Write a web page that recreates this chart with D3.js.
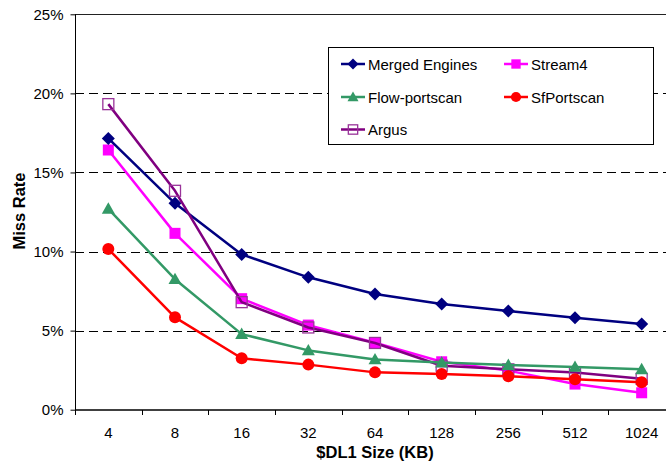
<!DOCTYPE html>
<html><head><meta charset="utf-8">
<script src="https://cdn.jsdelivr.net/npm/d3@7"></script>
<style>body{margin:0;background:#fff;} svg{display:block;font-family:"Liberation Sans",Arial,sans-serif;}</style>
</head><body>
<svg id="c" width="666" height="466"></svg>
<script>
const categories = ["4","8","16","32","64","128","256","512","1024"];
const yTicks = [0,5,10,15,20,25];
const mergedEngines = [17.15,13.05,9.82,8.37,7.31,6.68,6.24,5.82,5.42];
const stream4 = [16.42,11.15,7.02,5.35,4.24,3.03,2.47,1.62,1.07];
const flowPortscan = [12.7,8.25,4.78,3.75,3.18,2.98,2.82,2.7,2.55];
const sfPortscan = [10.16,5.84,3.25,2.85,2.36,2.26,2.11,1.92,1.73];
const argus = [19.32,13.84,6.8,5.2,4.22,2.78,2.55,2.35,1.95];

const series = [
  {name:"Merged Engines", values:mergedEngines, color:"#000080", marker:"diamond"},
  {name:"Stream4", values:stream4, color:"#FF00FF", marker:"square"},
  {name:"Flow-portscan", values:flowPortscan, color:"#339966", marker:"triangle"},
  {name:"SfPortscan", values:sfPortscan, color:"#FF0000", marker:"circle"},
  {name:"Argus", values:argus, color:"#800080", marker:"open"}
];

const FONT = "Liberation Sans, Arial, sans-serif";
const svg = d3.select("#c");
const x = d3.scaleBand().domain(categories).range([75, 675]);
const y = d3.scaleLinear().domain([0,25]).range([409.7, 14.3]);

// gridlines
const g = svg.append("g");
yTicks.filter(t=>t>0).forEach(t=>{
  g.append("line").attr("x1",75).attr("x2",666).attr("y1",Math.round(y(t))+0.5).attr("y2",Math.round(y(t))+0.5)
   .attr("stroke", t===25 ? "#222" : "#000").attr("stroke-width",1)
   .attr("stroke-dasharray", t===25 ? null : "9,5");
});

// axes
const yAxis = d3.axisLeft(y).tickValues(yTicks).tickFormat(d=>d+"%").tickSize(5).tickPadding(7);
const ya = svg.append("g").attr("transform","translate(75.5,0)").call(yAxis);
ya.select(".domain").attr("stroke","#000").attr("d","M0,14.3V410");
ya.selectAll("text").attr("font-size",15).attr("fill","#000").attr("font-family",FONT);

const xAxis = d3.axisBottom(x).tickSize(0).tickPadding(17);
const xa = svg.append("g").attr("transform","translate(0,410)").call(xAxis);
xa.select(".domain").attr("stroke","#000").attr("stroke-width",1.5).attr("d","M75,0H666");
xa.selectAll("text").attr("font-size",15).attr("fill","#000").attr("font-family",FONT);
// tick marks between categories
xa.selectAll(".btick").data(categories).enter().append("line")
  .attr("x1",d=>Math.round(x(d))+0.5).attr("x2",d=>Math.round(x(d))+0.5).attr("y1",0).attr("y2",5).attr("stroke","#000");

// axis titles
svg.append("text").attr("x",375).attr("y",458).attr("text-anchor","middle").attr("font-size",16.5).attr("font-weight","bold").text("$DL1 Size (KB)");
svg.append("text").attr("transform","translate(25,211) rotate(-90)").attr("text-anchor","middle").attr("font-size",16.5).attr("font-weight","bold").text("Miss Rate");

const cx = c => x(c) + x.bandwidth()/2;
const line = d3.line().x((d,i)=>cx(categories[i])).y(d=>y(d));

function drawMarker(sel, type, color, px, py, scale=1){
  if(type==="diamond"){
    const s=6.5*scale;
    sel.append("path").attr("d",`M${px},${py-s}L${px+s},${py}L${px},${py+s}L${px-s},${py}Z`).attr("fill",color);
  } else if(type==="square"){
    const s=5.5*scale;
    sel.append("rect").attr("x",px-s).attr("y",py-s).attr("width",2*s).attr("height",2*s).attr("fill",color);
  } else if(type==="triangle"){
    const s=6.5*scale;
    sel.append("path").attr("d",`M${px},${py-s}L${px+s},${py+s*0.75}L${px-s},${py+s*0.75}Z`).attr("fill",color);
  } else if(type==="circle"){
    sel.append("circle").attr("cx",px).attr("cy",py).attr("r",6*scale).attr("fill",color);
  } else if(type==="open"){
    const s=5.5*scale;
    sel.append("rect").attr("x",px-s).attr("y",py-s).attr("width",2*s).attr("height",2*s).attr("fill","none").attr("stroke","#993399").attr("stroke-width",1.3);
  }
}

const drawOrder = [1,0,4,2,3];
drawOrder.forEach(i=>{
  const s = series[i];
  const gs = svg.append("g");
  gs.append("path").datum(s.values).attr("d",line).attr("fill","none").attr("stroke",s.color).attr("stroke-width",2.5).attr("stroke-linejoin","round");
  s.values.forEach((v,j)=>drawMarker(gs, s.marker, s.color, cx(categories[j]), y(v)));
});

// legend
const lg = svg.append("g");
lg.append("rect").attr("x",328.5).attr("y",47.5).attr("width",325).attr("height",97).attr("fill","#fff").attr("stroke","#000").attr("stroke-width",1);
const pos = [[341,64],[504,64],[341,97],[504,97],[341,129.5]];
series.forEach((s,i)=>{
  const [lx,ly]=pos[i];
  lg.append("line").attr("x1",lx).attr("x2",lx+24).attr("y1",ly).attr("y2",ly).attr("stroke",s.color).attr("stroke-width",2.5);
  drawMarker(lg, s.marker, s.color, lx+12, ly, 0.85);
  lg.append("text").attr("x",lx+27).attr("y",ly+5.5).attr("font-size",15).attr("fill","#000").text(s.name);
});
</script>
</body></html>
